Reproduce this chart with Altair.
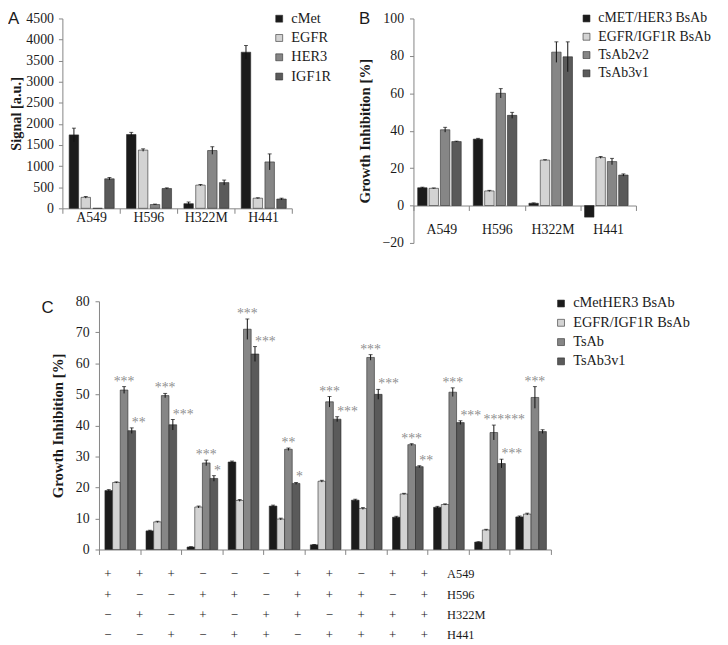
import altair as alt
import pandas as pd

W, H = 720, 637
SERIF = "Liberation Serif"
SANS = "Liberation Sans"
INK = "#1a1a1a"
AXIS_GRAY = "#858585"
STROKE = "#2b2b2b"
STAR_GRAY = "#8f8f8f"
FILLS = ["#1b1b1b", "#d3d3d3", "#868686", "#5a5a5a"]

# ---------------- Panel A : receptor signal ----------------
cells = ["A549", "H596", "H322M", "H441"]
targets_a = ["cMet", "EGFR", "HER3", "IGF1R"]
a_cmet = [1740, 1750, 110, 3700]
a_egfr = [260, 1380, 550, 240]
a_her3 = [0, 90, 1370, 1100]
a_igf1r = [700, 470, 610, 220]
a_cmet_err = [160, 50, 40, 160]
a_egfr_err = [20, 30, 15, 10]
a_her3_err = [0, 10, 90, 190]
a_igf1r_err = [30, 15, 60, 20]
a_yticks = [0, 500, 1000, 1500, 2000, 2500, 3000, 3500, 4000, 4500]

# ---------------- Panel B : growth inhibition per cell line ----------------
targets_b = ["cMET/HER3 BsAb", "EGFR/IGF1R BsAb", "TsAb2v2", "TsAb3v1"]
b_cmet_her3 = [9.5, 35.5, 1.2, -6.2]
b_egfr_igf1r = [9.2, 7.8, 24.3, 25.7]
b_tsab2v2 = [40.5, 60.0, 82.0, 23.5]
b_tsab3v1 = [34.2, 48.2, 79.5, 16.3]
b_cmet_her3_err = [0.3, 0.4, 0.2, 0.0]
b_egfr_igf1r_err = [0.2, 0.3, 0.2, 0.5]
b_tsab2v2_err = [1.3, 2.5, 5.5, 1.7]
b_tsab3v1_err = [0.2, 1.6, 8.0, 0.6]
b_yticks = [-20, 0, 20, 40, 60, 80, 100]

# ---------------- Panel C : growth inhibition in co-cultures ----------------
conditions = [str(i) for i in range(1, 12)]
targets_c = ["cMetHER3 BsAb", "EGFR/IGF1R BsAb", "TsAb", "TsAb3v1"]
c_cmet_her3 = [19.0, 6.0, 0.8, 28.2, 14.0, 1.5, 15.9, 10.4, 13.6, 2.4, 10.5]
c_egfr_igf1r = [21.6, 8.9, 13.7, 15.8, 9.8, 22.0, 13.2, 17.9, 14.5, 6.3, 11.4]
c_tsab = [51.4, 49.6, 27.9, 71.0, 32.3, 47.6, 61.9, 33.8, 50.7, 37.7, 49.0]
c_tsab3v1 = [38.3, 40.2, 22.9, 63.0, 21.3, 42.0, 50.0, 26.7, 40.9, 27.7, 38.0]
c_cmet_her3_err = [0.3, 0.2, 0.1, 0.3, 0.3, 0.1, 0.3, 0.3, 0.3, 0.1, 0.3]
c_egfr_igf1r_err = [0.2, 0.2, 0.3, 0.3, 0.3, 0.3, 0.3, 0.2, 0.2, 0.2, 0.3]
c_tsab_err = [1.1, 0.7, 0.9, 3.3, 0.4, 1.7, 0.9, 0.3, 1.4, 2.4, 3.5]
c_tsab3v1_err = [0.9, 1.7, 0.9, 2.4, 0.3, 0.8, 1.6, 0.3, 0.6, 1.4, 0.6]
c_tsab_stars = ["***", "***", "***", "***", "**", "***", "***", "***", "***", "***", "***"]
c_tsab3v1_stars = ["**", "***", "*", "***", "*", "***", "***", "**", "***", "***", ""]
c_tsab_extra_stars = ["", "", "", "", "", "", "", "", "", "***", ""]
c_yticks = [0, 10, 20, 30, 40, 50, 60, 70, 80]

# ---------------- co-culture composition table ----------------
sign_rows = ["A549", "H596", "H322M", "H441"]
sign_a549 = ["+", "+", "+", "−", "−", "−", "+", "+", "−", "+", "+"]
sign_h596 = ["+", "−", "−", "+", "+", "−", "+", "+", "+", "−", "+"]
sign_h322m = ["−", "+", "−", "+", "−", "+", "+", "−", "+", "+", "+"]
sign_h441 = ["−", "−", "+", "−", "+", "+", "−", "+", "+", "+", "+"]


def long_frame(groups, targets, series, errors):
    rows = []
    for t, vals, errs in zip(targets, series, errors):
        for g, v, e in zip(groups, vals, errs):
            rows.append({"group": g, "target": t, "value": v, "err": e,
                         "lo": v - e, "hi": v + e})
    return pd.DataFrame(rows)


def grouped_panel(df, groups, targets, x_range, y_domain, y_range, y_ticks, y_title,
                  off_inner, off_outer, off_align, show_x_labels, x_label_pad,
                  y_label_pad, y_title_pad, y_title_size, legend_x, legend_y, legend_size):
    d0, d1 = y_domain
    zero_px = y_range[0] + (0 - d0) / (d1 - d0) * (y_range[1] - y_range[0])
    x_axis = alt.Axis(orient="bottom", offset=zero_px - H, tickBand="extent", title=None,
                      labels=show_x_labels, labelAngle=0, tickSize=5, labelPadding=x_label_pad,
                      labelFont=SERIF, labelFontSize=14, labelColor=INK,
                      domainColor=AXIS_GRAY, tickColor=AXIS_GRAY, grid=False)
    y_axis = alt.Axis(orient="left", offset=-x_range[0],
                      values=y_ticks, format="d", title=y_title, grid=False,
                      tickSize=4, labelPadding=y_label_pad, titlePadding=y_title_pad,
                      labelFont=SERIF, labelFontSize=14, labelColor=INK,
                      titleFont=SERIF, titleFontSize=y_title_size, titleFontWeight="bold",
                      titleColor=INK, domainColor=AXIS_GRAY, tickColor=AXIS_GRAY)
    x_sc = alt.Scale(domain=groups, range=list(x_range), paddingInner=0, paddingOuter=0)
    xo_sc = alt.Scale(domain=targets, paddingInner=off_inner, paddingOuter=off_outer, align=off_align)
    y_sc = alt.Scale(domain=list(y_domain), range=list(y_range), nice=False, zero=False)

    x_enc = alt.X("group:N", sort=groups, scale=x_sc, axis=x_axis)
    xo_enc = alt.XOffset("target:N", sort=targets, scale=xo_sc)

    bars = alt.Chart(df).mark_bar(stroke=STROKE, strokeWidth=0.6).encode(
        x=x_enc, xOffset=xo_enc,
        y=alt.Y("value:Q", scale=y_sc, axis=y_axis),
        color=alt.Color("target:N", sort=targets,
                        scale=alt.Scale(domain=targets, range=FILLS),
                        legend=alt.Legend(orient="none", legendX=legend_x, legendY=legend_y,
                                          title=None, symbolType="square", symbolSize=49,
                                          symbolStrokeColor=STROKE, symbolStrokeWidth=0.6,
                                          labelFont=SERIF, labelFontSize=legend_size,
                                          labelColor=INK, labelLimit=300,
                                          rowPadding=4.5, labelOffset=5, padding=0)),
    )
    err_df = df[df["err"] > 0]
    rules = alt.Chart(err_df).mark_rule(color="#111111", strokeWidth=1).encode(
        x=x_enc, xOffset=xo_enc,
        y=alt.Y("lo:Q", scale=y_sc, axis=y_axis), y2="hi:Q",
    )
    caps_top = alt.Chart(err_df).mark_tick(color="#111111", thickness=1, size=4).encode(
        x=x_enc, xOffset=xo_enc, y=alt.Y("hi:Q", scale=y_sc, axis=y_axis),
    )
    return [bars, rules, caps_top], x_enc, xo_enc, y_sc, y_axis


# ---- Panel A
df_a = long_frame(cells, targets_a, [a_cmet, a_egfr, a_her3, a_igf1r],
                  [a_cmet_err, a_egfr_err, a_her3_err, a_igf1r_err])
layers_a, _, _, _, _ = grouped_panel(
    df_a, cells, targets_a, (55, 287), (0, 4500), (199, 7), a_yticks, "Signal [a.u.]",
    0.2, 0.52, 0.55, True, -2.5, 5, 2, 14.5, 267, 0, 14.5)
panel_a = alt.layer(*layers_a)

# ---- Panel B
df_b = long_frame(cells, targets_b, [b_cmet_her3, b_egfr_igf1r, b_tsab2v2, b_tsab3v1],
                  [b_cmet_her3_err, b_egfr_igf1r_err, b_tsab2v2_err, b_tsab3v1_err])
layers_b, _, _, _, _ = grouped_panel(
    df_b, cells, targets_b, (410, 635), (-20, 100), (234, 7), b_yticks, "Growth Inhibition [%]",
    0.17, 0.53, 0.35, True, 12.5, 6, 10, 15, 578, 0, 14)
panel_b = alt.layer(*layers_b)

# ---- Panel C
df_c = long_frame(conditions, targets_c, [c_cmet_her3, c_egfr_igf1r, c_tsab, c_tsab3v1],
                  [c_cmet_her3_err, c_egfr_igf1r_err, c_tsab_err, c_tsab3v1_err])
layers_c, x_c, xo_c, ysc_c, yax_c = grouped_panel(
    df_c, conditions, targets_c, (92, 549), (0, 80), (544, 293), c_yticks, "Growth Inhibition [%]",
    0.0, 0.68, 0.57, False, 2, 6, 10, 15, 552, 288, 14.5)

stars_tsab_df = pd.DataFrame({"group": conditions, "target": "TsAb",
                              "y": [v + e for v, e in zip(c_tsab, c_tsab_err)],
                              "label": c_tsab_stars})
stars_3v1_df = pd.DataFrame({"group": conditions, "target": "TsAb3v1",
                             "y": [v + e for v, e in zip(c_tsab3v1, c_tsab3v1_err)],
                             "label": c_tsab3v1_stars})
stars_extra_df = pd.DataFrame({"group": conditions, "target": "TsAb",
                               "y": [v + e for v, e in zip(c_tsab, c_tsab_err)],
                               "label": c_tsab_extra_stars})


def star_layer(df, align, dx):
    return alt.Chart(df).mark_text(font=SERIF, fontSize=14, color=STAR_GRAY,
                                   baseline="alphabetic", align=align, dx=dx, dy=-1).encode(
        x=x_c, xOffset=xo_c, y=alt.Y("y:Q", scale=ysc_c, axis=yax_c), text="label:N")


panel_c = alt.layer(*layers_c,
                    star_layer(stars_tsab_df, "center", 0),
                    star_layer(stars_3v1_df, "left", 0),
                    star_layer(stars_extra_df, "left", 10.5))

# ---- Table below panel C
table_rows = []
for r, signs in zip(sign_rows, [sign_a549, sign_h596, sign_h322m, sign_h441]):
    for i, s in enumerate(signs):
        table_rows.append({"col": i, "row": r, "sign": s})
table_df = pd.DataFrame(table_rows)
tx = alt.X("col:Q", scale=alt.Scale(domain=[0, 10], range=[101, 421], nice=False, zero=False), axis=None)
ty = alt.Y("row:N", sort=sign_rows, scale=alt.Scale(domain=sign_rows, range=[569, 631], padding=0), axis=None)
signs_layer = alt.Chart(table_df).mark_text(font=SERIF, fontSize=13, color=INK).encode(
    x=tx, y=ty, text="sign:N")
row_label_df = pd.DataFrame({"col": [10] * len(sign_rows), "row": sign_rows})
row_labels = alt.Chart(row_label_df).mark_text(font=SERIF, fontSize=12.5, color=INK,
                                               align="left", dx=23).encode(
    x=tx, y=ty, text="row:N")
table = alt.layer(signs_layer, row_labels)


# ---- panel letters
def letter(t, x, y):
    return alt.Chart(pd.DataFrame({"t": [t]})).mark_text(
        font=SANS, fontSize=17, color=INK, align="left", baseline="alphabetic").encode(
        text="t:N", x=alt.value(x), y=alt.value(y))


chart = alt.layer(
    panel_a, panel_b, panel_c, table,
    letter("A", 0, 13), letter("B", 355, 13), letter("C", 34, 305),
).resolve_scale(
    x="independent", y="independent", xOffset="independent", color="independent"
).resolve_axis(
    x="independent", y="independent"
).resolve_legend(
    color="independent"
).properties(
    width=W, height=H, padding=0,
    autosize=alt.AutoSizeParams(type="none"),
).configure_view(stroke=None)

chart.save("out.html", embed_options={"renderer": "svg", "actions": False})
